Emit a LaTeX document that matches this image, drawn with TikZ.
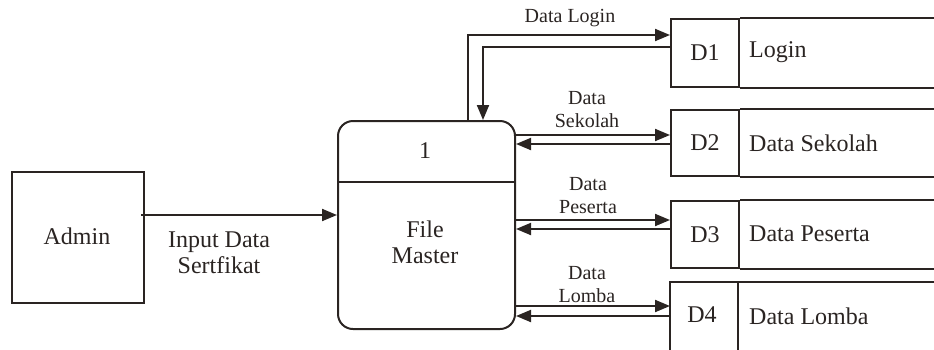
\documentclass[tikz,border=0pt]{standalone}
\usepackage{fontspec}
\setmainfont{Liberation Serif}
\usetikzlibrary{arrows.meta}
\definecolor{ink}{HTML}{2A2422}
\tikzset{
  ln/.style={draw=ink, line width=2pt},
  flow/.style={ln, -{Triangle[length=15pt,width=12pt]}},
  big/.style={font=\fontsize{24}{26}\selectfont, text=ink, inner sep=0pt},
  small/.style={font=\fontsize{20}{23}\selectfont, text=ink, inner sep=0pt, align=center},
  idbox/.style={ln, minimum width=68pt, minimum height=68pt, inner sep=0pt, anchor=north west, font=\fontsize{24}{26}\selectfont, text=ink}
}
\begin{document}
\begin{tikzpicture}[x=1pt,y=-1pt]
\useasboundingbox (0,0) rectangle (934,349);
% external entity
\node[ln, minimum width=132pt, minimum height=131pt, inner sep=0pt, anchor=north west] (admin) at (11,171) {};
\node[big] (admintxt) at (77,236) {Admin};
% process
\node[ln, rounded corners=15pt, minimum width=177pt, minimum height=208pt, inner sep=0pt, anchor=north west] (p) at (337,120) {};
\coordinate (pdivl) at (337,182);
\coordinate (pdivr) at (514,182);
\draw[ln] (pdivl) -- (pdivr);
\node[big] (pnum) at (425,151) {1};
\node[big, align=center] (pname) at (425,242) {File\\Master};
% data stores
\node[idbox] (d1) at (670,18) {D1};
\node[idbox, minimum height=66pt] (d2) at (670,109) {D2};
\node[idbox, minimum height=67pt] (d3) at (670,200) {D3};
\coordinate (d4top) at (670,282);
\coordinate (d4bot) at (670,352);
\coordinate (d4mtop) at (738,282);
\coordinate (d4mbot) at (738,352);
\coordinate (d4r) at (934,282);
\draw[ln] (d4bot) -- (d4top) -- (d4r);
\draw[ln] (d4mtop) -- (d4mbot);
\node[big, anchor=center] (d4) at (702,315) {D4};
\coordinate (d4w) at (670,316);
\foreach \n in {d1,d2,d3}{
  \draw[ln] (\n.north east) -- (\n.north east -| 934,0);
  \draw[ln] (\n.south east) -- (\n.south east -| 934,0);
}
\node[big, anchor=west] (s1) at (749,52) {Login};
\node[big, anchor=west] (s2) at (749,143) {Data Sekolah};
\node[big, anchor=west] (s3) at (749,234) {Data Peserta};
\node[big, anchor=west] (s4) at (749,316) {Data Lomba};
% admin -> process
\draw[flow] (admin.east |- 0,215) ++(-4,0) -- (p.west |- 0,215);
\node[big, align=center] (inlbl) at (219,253) {Input Data\\Sertfikat};
% D1 flows
\draw[flow] (p.north -| 468,0) |- (d1.west |- 0,35);
\draw[flow] (d1.west |- 0,47) -| (p.north -| 483,0);
\node[small] (l1) at (570,18) {Data Login};
% D2 flows
\draw[flow] (p.east |- 0,135) -- (d2.west |- 0,135);
\draw[flow] (d2.west |- 0,144) -- (p.east |- 0,144);
\node[small] (l2) at (587,110) {Data\\Sekolah};
% D3 flows
\draw[flow] (p.east |- 0,220) -- (d3.west |- 0,220);
\draw[flow] (d3.west |- 0,229) -- (p.east |- 0,229);
\node[small] (l3) at (588,196) {Data\\Peserta};
% D4 flows
\draw[flow] (p.east |- 0,306) -- (d4w |- 0,306);
\draw[flow] (d4w) -- (p.east |- 0,316);
\node[small] (l4) at (587,285) {Data\\Lomba};
\end{tikzpicture}
\end{document}
